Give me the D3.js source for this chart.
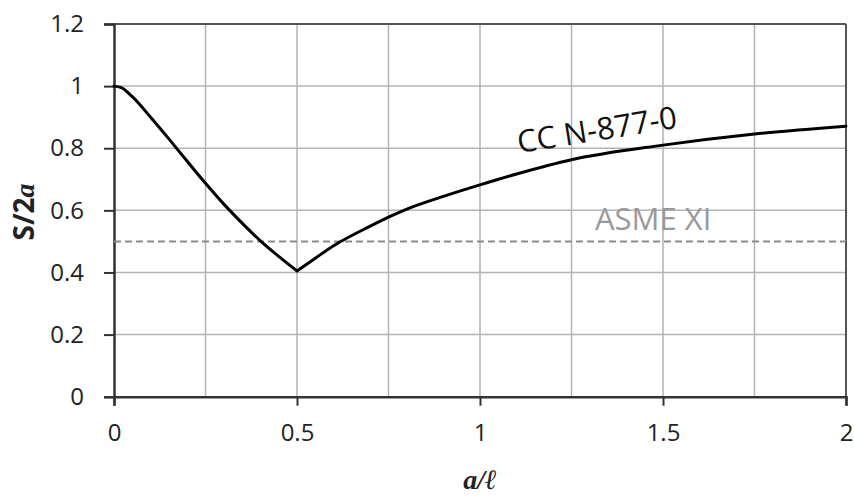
<!DOCTYPE html>
<html><head><meta charset="utf-8">
<script src="https://cdn.jsdelivr.net/npm/d3@7"></script>
<style>body{margin:0;background:#fff}</style>
</head><body><svg id="c" width="854" height="497"></svg>
<script>
// Data
const ccA   = [0,0.02,0.05,0.1,0.15,0.2,0.25,0.3,0.35,0.4,0.45,0.5,0.55,0.6,0.7,0.75,0.8,0.9,1.0,1.1,1.25,1.5,1.75,2.0];
const ccS   = [1.0,0.995,0.966,0.9,0.83,0.758,0.687,0.62,0.559,0.502,0.452,0.405,0.446,0.486,0.549,0.578,0.604,0.645,0.682,0.717,0.763,0.81,0.846,0.871];
const asmeA = [0,2];
const asmeS = [0.5,0.5];
const xTicks = [0,0.5,1,1.5,2];
const xTickLabels = ["0","0.5","1","1.5","2"];
const xGrid = [0.25,0.5,0.75,1,1.25,1.5,1.75];
const yTicks = [0,0.2,0.4,0.6,0.8,1,1.2];
const yTickLabels = ["0","0.2","0.4","0.6","0.8","1","1.2"];

const svg = d3.select("#c");
const L=114, R=846, T=24, B=396.7;
const x = d3.scaleLinear().domain([0,2]).range([L,R]);
const y = d3.scaleLinear().domain([0,1.2]).range([B,T]);

// gridlines
svg.append("g").selectAll("line").data(xGrid).join("line")
  .attr("x1",d=>x(d)).attr("x2",d=>x(d)).attr("y1",T).attr("y2",B)
  .attr("stroke","#b3b3b3").attr("stroke-width",1.5);
svg.append("g").selectAll("line").data(yTicks.filter(d=>d>0&&d<1.2)).join("line")
  .attr("x1",L).attr("x2",R).attr("y1",d=>y(d)).attr("y2",d=>y(d))
  .attr("stroke","#b3b3b3").attr("stroke-width",1.5);
// top & right border
svg.append("line").attr("x1",L).attr("x2",R).attr("y1",y(1.2)).attr("y2",y(1.2)).attr("stroke","#555").attr("stroke-width",2);
svg.append("line").attr("x1",x(2)).attr("x2",x(2)).attr("y1",T).attr("y2",B).attr("stroke","#555").attr("stroke-width",2);

// axes
const font = "'Open Sans', sans-serif";
const xAxis = d3.axisBottom(x).tickValues(xTicks).tickFormat((d,i)=>xTickLabels[i]).tickSize(9).tickPadding(18);
const gx = svg.append("g").attr("transform",`translate(0,${B})`).call(xAxis);
gx.select(".domain").attr("stroke","#333").attr("stroke-width",2.5);
gx.selectAll(".tick line").attr("stroke","#333").attr("stroke-width",2);
gx.selectAll("text").attr("font-family",font).attr("font-size",24).attr("fill","#222");

const yAxis = d3.axisLeft(y).tickValues(yTicks).tickFormat((d,i)=>yTickLabels[i]).tickSize(10).tickPadding(20);
const gy = svg.append("g").attr("transform",`translate(${L},0)`).call(yAxis);
gy.select(".domain").attr("stroke","#333").attr("stroke-width",2.5);
gy.selectAll(".tick line").attr("stroke","#333").attr("stroke-width",2);
gy.selectAll("text").attr("font-family",font).attr("font-size",24).attr("fill","#222");

// ASME line
svg.append("path").datum(asmeA.map((a,i)=>[a,asmeS[i]]))
  .attr("d",d3.line().x(d=>x(d[0])).y(d=>y(d[1])))
  .attr("fill","none").attr("stroke","#8c8c8c").attr("stroke-width",2).attr("stroke-dasharray","7,4");
// CC line: smooth on each side of the sharp minimum at a/l = 0.5
const pts = ccA.map((a,i)=>[a,ccS[i]]);
const line = d3.line().x(d=>x(d[0])).y(d=>y(d[1])).curve(d3.curveMonotoneX);
const segs = [pts.filter(d=>d[0]<=0.5), pts.filter(d=>d[0]>=0.5)];
svg.append("g").selectAll("path").data(segs).join("path")
  .attr("d",line)
  .attr("fill","none").attr("stroke","#000").attr("stroke-width",3).attr("stroke-linejoin","round").attr("stroke-linecap","round");

// labels
svg.append("text").attr("x",595).attr("y",230).attr("font-family",font).attr("font-size",31)
  .attr("fill","#999").text("ASME XI");
svg.append("text").attr("transform","translate(519,153) rotate(-9)").attr("font-family",font).attr("font-size",31)
  .attr("fill","#111").text("CC N-877-0");

// axis titles
const yt = svg.append("text").attr("transform","translate(34,212) rotate(-90)").attr("text-anchor","middle")
  .attr("font-size",28).attr("font-weight","bold").attr("fill","#222");
yt.append("tspan").attr("font-family",font).text("S/2");
yt.append("tspan").attr("font-family","'Liberation Serif','DejaVu Serif',serif").attr("font-style","italic").text("a");

svg.append("text").attr("x",480).attr("y",489).attr("text-anchor","middle")
  .attr("font-family","'Liberation Serif','DejaVu Serif',serif").attr("font-style","italic").attr("font-weight","bold")
  .attr("font-size",28).attr("fill","#222").text("a/ℓ");
</script></body></html>
